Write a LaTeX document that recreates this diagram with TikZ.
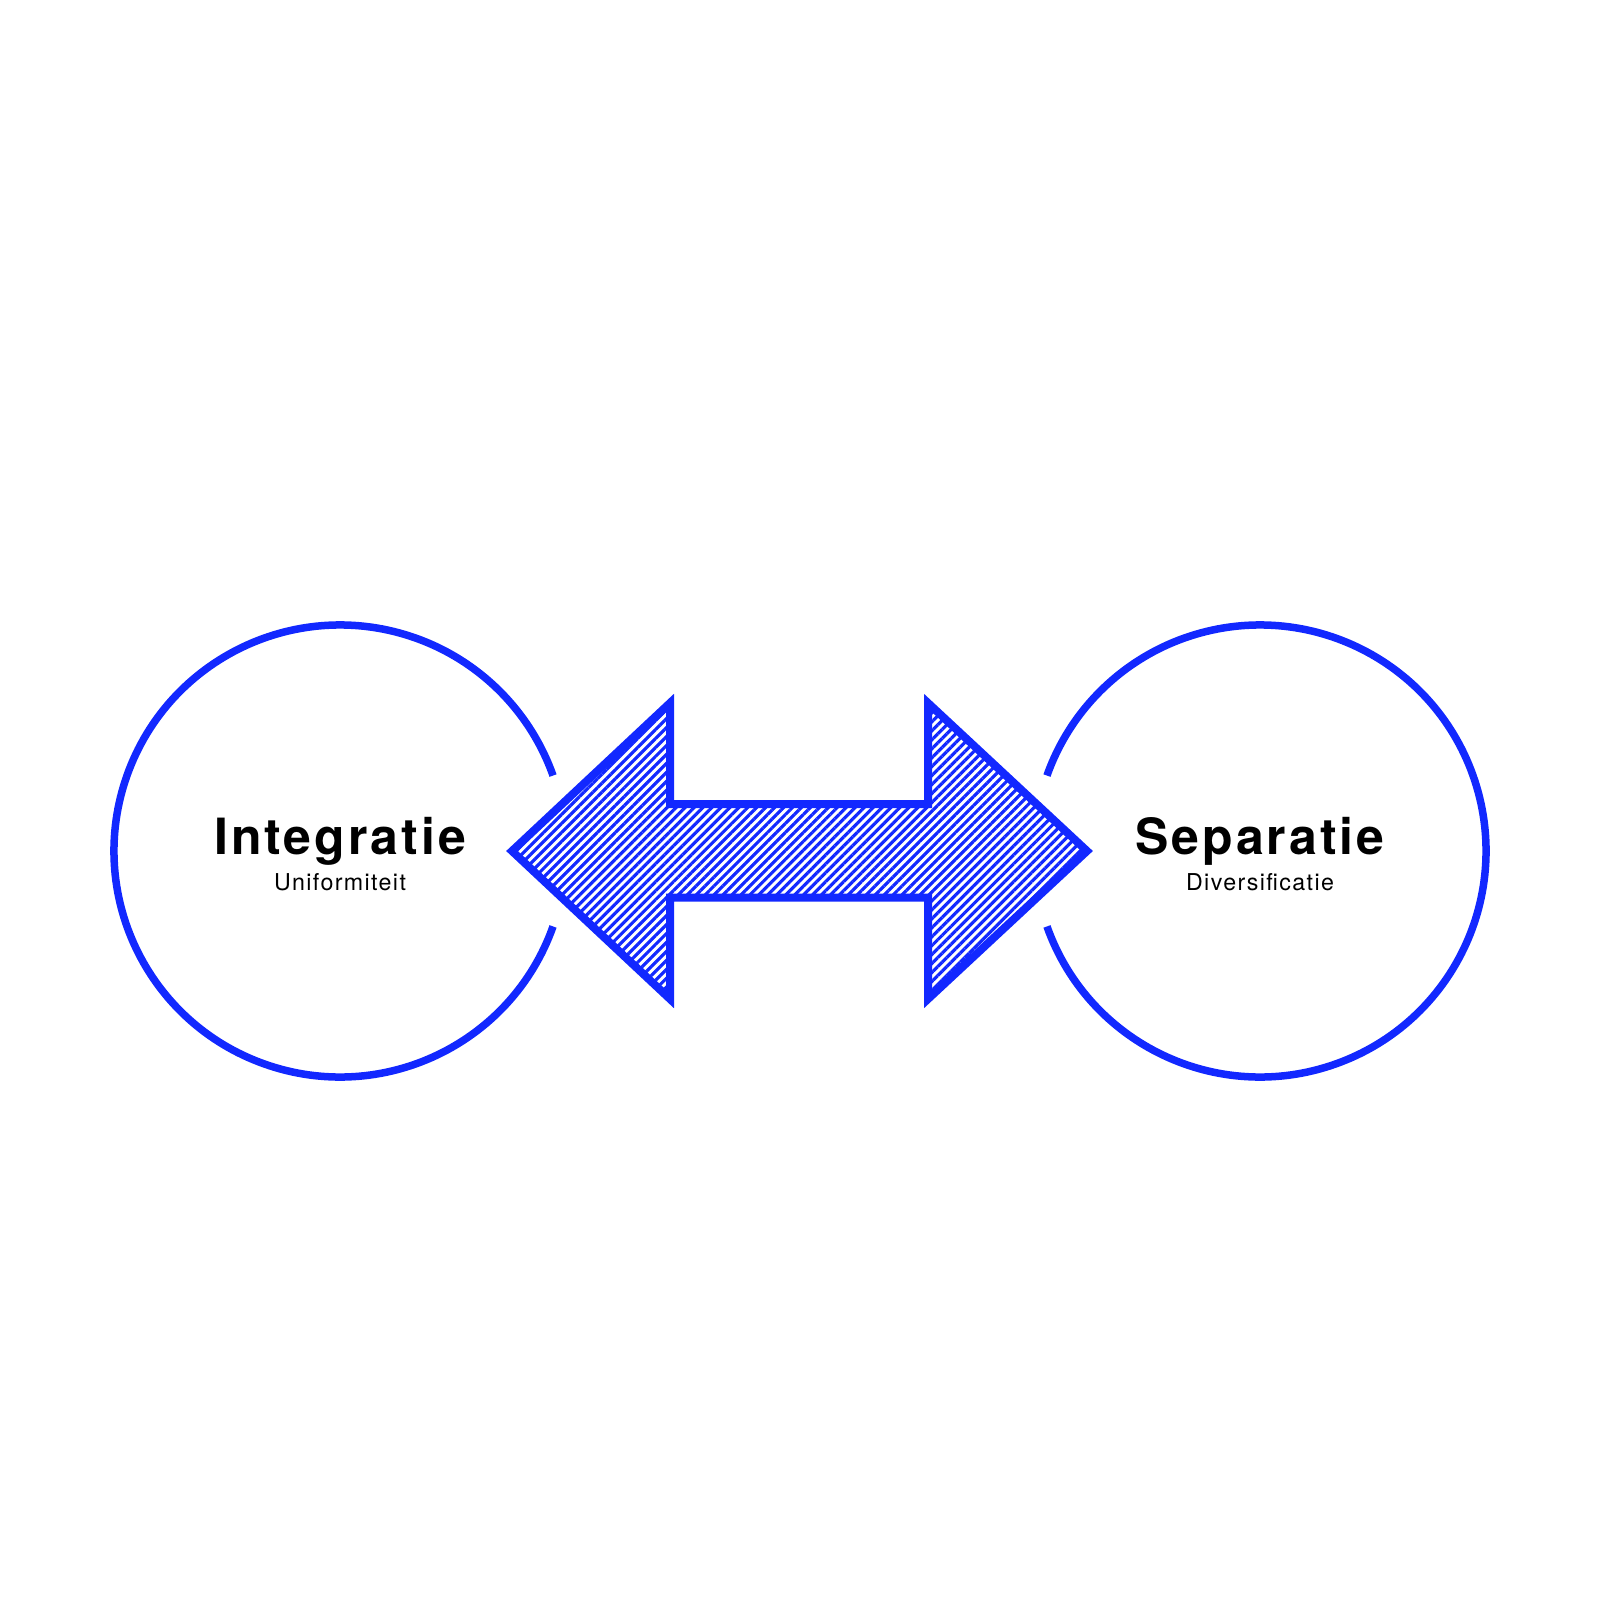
\documentclass[tikz,border=0pt]{standalone}
\usepackage{fontspec}
\setmainfont{TeX Gyre Heros}
\newfontfamily\headfont{TeX Gyre Heros}[LetterSpace=6]
\usetikzlibrary{patterns.meta}
\definecolor{poleblue}{HTML}{1228FF}

\begin{document}
\begin{tikzpicture}[
  x={(0.01cm,0cm)},
  y={(0cm,-0.01cm)},
  line join=miter,
  ring/.style={draw=poleblue,line width=0.075cm},
  twoway/.style={draw=poleblue,line width=0.08cm,
    pattern={Lines[angle=45,distance=1.8pt,line width=0.9pt]},
    pattern color=poleblue},
  title/.style={font=\headfont\bfseries\fontsize{14.2}{16}\selectfont,anchor=base},
  subtitle/.style={font=\headfont\fontsize{6.6}{8}\selectfont,anchor=base}
]
  \useasboundingbox (0,0) rectangle (1600,1600);

  % Pole centres.
  \coordinate (lc) at (340,851);
  \coordinate (rc) at (1260,851);

  % Arrow outline points.
  \coordinate (tipL) at (512,851);
  \coordinate (hLt) at (670,703);
  \coordinate (sLt) at (670,804);
  \coordinate (sRt) at (928,804);
  \coordinate (hRt) at (928,703);
  \coordinate (tipR) at (1087,851);
  \coordinate (hRb) at (928,999);
  \coordinate (sRb) at (928,897.5);
  \coordinate (sLb) at (670,897.5);
  \coordinate (hLb) at (670,999);

  % Open rings around the poles.
  \draw[ring] (lc) ++(19.5:226) arc[start angle=19.5,end angle=340.5,radius=226];
  \draw[ring] (rc) ++(160.5:226) arc[start angle=160.5,end angle=-160.5,radius=226];

  % Hatched double arrow.
  \draw[twoway] (tipL) -- (hLt) -- (sLt) -- (sRt) -- (hRt) -- (tipR)
    -- (hRb) -- (sRb) -- (sLb) -- (hLb) -- cycle;

  % Labels.
  \node[title] (integ) at (340,854) {Integratie};
  \node[subtitle] (unif) at (340,890) {Uniformiteit};
  \node[title] (separ) at (1260,854) {Separatie};
  \node[subtitle] (divers) at (1260,890) {Diversificatie};
\end{tikzpicture}
\end{document}
